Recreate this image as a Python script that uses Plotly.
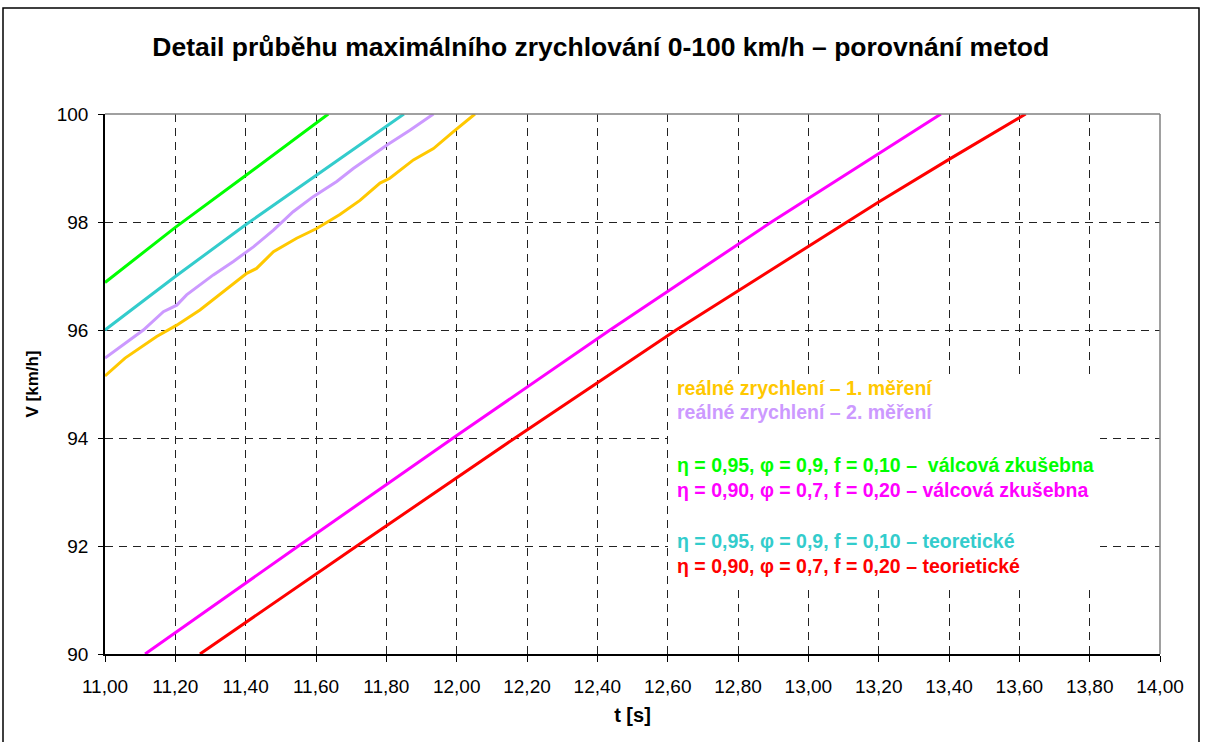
import plotly.graph_objects as go

# ---- data ----
t_yellow = [11.00, 11.057, 11.147, 11.204, 11.27, 11.336, 11.403, 11.431, 11.479, 11.545,
            11.602, 11.668, 11.725, 11.782, 11.810, 11.877, 11.934, 11.990, 12.052]
v_yellow = [95.15, 95.48, 95.88, 96.09, 96.37, 96.71, 97.05, 97.14, 97.45, 97.70,
            97.88, 98.14, 98.40, 98.72, 98.81, 99.15, 99.36, 99.67, 100.0]

t_lav = [11.00, 11.109, 11.166, 11.204, 11.232, 11.308, 11.365, 11.422, 11.479, 11.535,
         11.592, 11.659, 11.706, 11.803, 11.867, 11.934]
v_lav = [95.48, 96.0, 96.34, 96.46, 96.65, 97.02, 97.27, 97.54, 97.85, 98.19,
         98.47, 98.75, 98.99, 99.43, 99.70, 100.0]

t_green = [11.00, 11.20, 11.40, 11.60, 11.635]
v_green = [96.88, 97.90, 98.86, 99.83, 100.0]

t_cyan = [11.00, 11.20, 11.40, 11.60, 11.70, 11.80, 11.85]
v_cyan = [96.0, 96.99, 97.95, 98.86, 99.31, 99.77, 100.0]

t_magenta = [11.114, 11.550, 11.990, 12.436, 12.895, 13.377]
v_magenta = [90.0, 92.0, 94.0, 96.0, 98.0, 100.0]

t_red = [11.270, 11.716, 12.166, 12.624, 13.11, 13.20, 13.40, 13.618]
v_red = [90.0, 92.0, 94.0, 96.0, 98.0, 98.37, 99.16, 100.0]

series_names = [
    "reálné zrychlení – 1. měření",
    "reálné zrychlení – 2. měření",
    "η = 0,95, φ = 0,9, f = 0,10 –  válcová zkušebna",
    "η = 0,90, φ = 0,7, f = 0,20 – válcová zkušebna",
    "η = 0,95, φ = 0,9, f = 0,10 – teoretické",
    "η = 0,90, φ = 0,7, f = 0,20 – teorietické",
]
colors = ["#FFC800", "#CC99FF", "#00FF00", "#FF00FF", "#33CCCC", "#FF0000"]

x_ticks = [11.0 + 0.2 * i for i in range(16)]
y_ticks = [90, 92, 94, 96, 98, 100]

title_text = "Detail průběhu maximálního zrychlování 0-100 km/h – porovnání metod"
FONT = "Arial, Liberation Sans, sans-serif"

fig = go.Figure()
data = [(t_yellow, v_yellow), (t_lav, v_lav), (t_green, v_green),
        (t_magenta, v_magenta), (t_cyan, v_cyan), (t_red, v_red)]
for (tx, vy), name, col in zip(data, series_names, colors):
    fig.add_trace(go.Scatter(x=tx, y=vy, mode="lines", name=name,
                             line=dict(color=col, width=3), showlegend=False,
                             cliponaxis=True))

# plot area pixel geometry
L, R, T, B = 105, 1160, 114, 654
W, H = 1205, 742
pw, ph = R - L, B - T

def px(x):
    return (x - L) / pw

def py(y):
    return (B - y) / ph

shapes = []
# outer chart border
shapes.append(dict(type="rect", xref="paper", yref="paper",
                   x0=px(3), x1=px(1199), y0=py(748), y1=py(8),
                   line=dict(color="black", width=1.5), fillcolor="rgba(0,0,0,0)",
                   layer="above"))
# grey top and right border of plot area
shapes.append(dict(type="line", xref="paper", yref="paper", x0=0, x1=1, y0=1, y1=1,
                   line=dict(color="#808080", width=1.5), layer="above"))
shapes.append(dict(type="line", xref="paper", yref="paper", x0=1, x1=1, y0=0, y1=1,
                   line=dict(color="#808080", width=1.5), layer="above"))
# white legend background
shapes.append(dict(type="rect", xref="paper", yref="paper",
                   x0=px(668), x1=px(1100), y0=py(588), y1=py(376),
                   line=dict(width=0), fillcolor="white", layer="above"))

annotations = []
legend_y = [388, 412, 465, 490, 541, 566]
for name, col, yy in zip(series_names, colors, legend_y):
    annotations.append(dict(text="<b>%s</b>" % name, xref="paper", yref="paper",
                            x=px(675), y=py(yy), xanchor="left", yanchor="middle",
                            showarrow=False, font=dict(family=FONT, size=19.5, color=col)))

fig.update_layout(
    width=W, height=H,
    margin=dict(l=L, r=W - R, t=T, b=H - B, pad=0),
    paper_bgcolor="white", plot_bgcolor="white",
    separators=", ",
    font=dict(family=FONT, color="black"),
    title=dict(text="<b>%s</b>" % title_text, x=0.4985,
               xanchor="center", y=1 - 47 / H, yanchor="middle",
               font=dict(family=FONT, size=26.5, color="black")),
    shapes=shapes,
    annotations=annotations,
)

fig.update_xaxes(
    range=[11.0, 14.0], tickvals=x_ticks, tickformat=".2f",
    showgrid=True, gridcolor="#222222", griddash="8px,6px", gridwidth=1,
    showline=True, linecolor="black", linewidth=1.5,
    ticks="outside", ticklen=6, tickcolor="black",
    ticklabelstandoff=8,
    tickfont=dict(family=FONT, size=19, color="black"),
    title=dict(text="<b>t [s]</b>", font=dict(family=FONT, size=20, color="black"), standoff=12),
    zeroline=False, fixedrange=True,
)
fig.update_yaxes(
    range=[90, 100], tickvals=y_ticks, tickformat="d",
    showgrid=True, gridcolor="#222222", griddash="8px,6px", gridwidth=1,
    showline=True, linecolor="black", linewidth=1.5,
    ticks="outside", ticklen=5, tickcolor="black",
    ticklabelstandoff=6,
    tickfont=dict(family=FONT, size=19, color="black"),
    title=dict(text="<b>V [km/h]</b>", font=dict(family=FONT, size=17, color="black"), standoff=14),
    zeroline=False, fixedrange=True,
)

fig.write_html("out.html")
